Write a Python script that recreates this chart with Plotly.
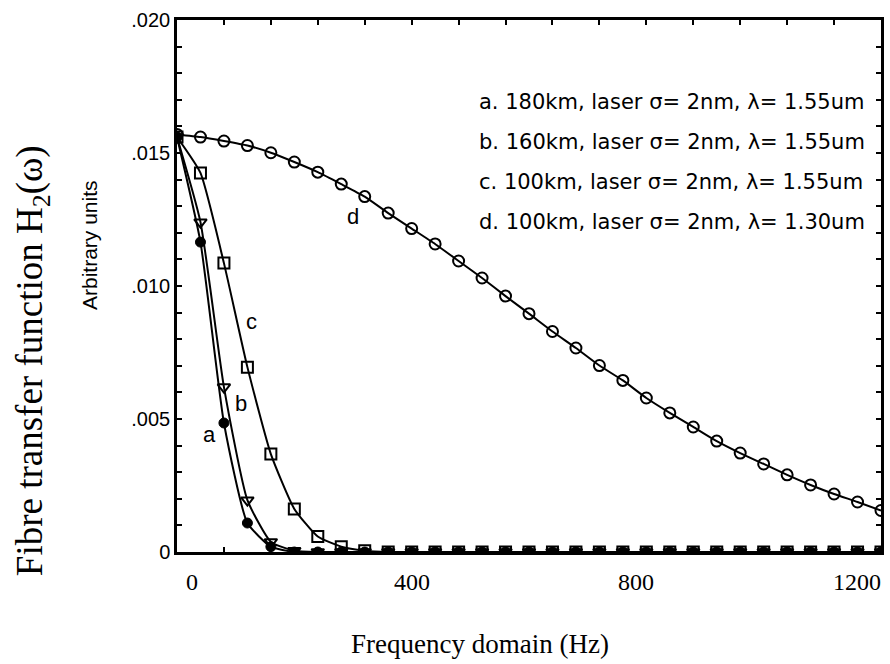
import plotly.graph_objects as go

# Frequency samples (Hz)
freq = [0, 40, 80, 120, 160, 200, 240, 280, 320, 360, 400, 440, 480, 520, 560,
        600, 640, 680, 720, 760, 800, 840, 880, 920, 960, 1000, 1040, 1080,
        1120, 1160, 1200]

# Fibre transfer function H2(w), arbitrary units
h_a = [0.0156, 0.01165, 0.00485, 0.00109, 0.0002, 0, 0, 0, 0, 0, 0, 0, 0, 0, 0,
       0, 0, 0, 0, 0, 0, 0, 0, 0, 0, 0, 0, 0, 0, 0, 0]
h_b = [0.0156, 0.0124, 0.0062, 0.00195, 0.00038, 0.00005, 0, 0, 0, 0, 0, 0, 0, 0, 0,
       0, 0, 0, 0, 0, 0, 0, 0, 0, 0, 0, 0, 0, 0, 0, 0]
h_c = [0.0156, 0.01425, 0.01086, 0.00695, 0.00368, 0.00162, 0.00058, 0.0002, 0.00005,
       0, 0, 0, 0, 0, 0, 0, 0, 0, 0, 0, 0, 0, 0, 0, 0, 0, 0, 0, 0, 0, 0]
h_d = [0.0157, 0.0156, 0.01545, 0.01528, 0.01501, 0.01466, 0.01428, 0.01383, 0.01336,
       0.01274, 0.01216, 0.01158, 0.01094, 0.0103, 0.00962, 0.00896, 0.00829, 0.00767,
       0.00701, 0.00645, 0.00579, 0.00523, 0.0047, 0.00417, 0.00372, 0.00331, 0.0029,
       0.00252, 0.00218, 0.00188, 0.00156]

legend_lines = [
    "a. 180km, laser σ= 2nm, λ= 1.55um",
    "b. 160km, laser σ= 2nm, λ= 1.55um",
    "c. 100km, laser σ= 2nm, λ= 1.55um",
    "d. 100km, laser σ= 2nm, λ= 1.30um",
]

# curve tags: (text, freq, value)
curve_tags = [("a", 56, 0.0044), ("b", 109, 0.0056), ("c", 127, 0.00865), ("d", 300, 0.0126)]

x_tick_vals = [0, 400, 800, 1200]
x_tick_text = ["0", "400", "800", "1200"]
x_tick_shift = [15, 0, -10, 2]
x_tick_anchor = ["center", "center", "center", "right"]

y_tick_vals = [i * 0.001 for i in range(21)]
y_tick_text = ["0" if i == 0 else (".%03d" % i if i % 5 == 0 else " ") for i in range(21)]

SANS = "Liberation Sans, Arial, sans-serif"
WIDE_SANS = "DejaVu Sans, Verdana, sans-serif"
SERIF = "Liberation Serif, Times New Roman, serif"

series = [
    (h_d, dict(symbol="circle-open", size=11, line=dict(width=2, color="black"))),
    (h_c, dict(symbol="square-open", size=11, line=dict(width=2, color="black"))),
    (h_b, dict(symbol="triangle-down-open", size=11, line=dict(width=2, color="black"))),
    (h_a, dict(symbol="circle", size=10, color="black", line=dict(width=1, color="black"))),
]

fig = go.Figure()
for vals, mk in series:
    fig.add_trace(go.Scatter(
        x=freq, y=vals, mode="lines+markers",
        line=dict(color="black", width=2, shape="spline", smoothing=0.5),
        marker=mk, cliponaxis=True, showlegend=False,
    ))

annotations = []
for txt, fx, fy in curve_tags:
    annotations.append(dict(x=fx, y=fy, xref="x", yref="y", text=txt, showarrow=False,
                            font=dict(family=SANS, size=22, color="black")))

for i, line in enumerate(legend_lines):
    annotations.append(dict(x=0.4257, y=0.846 - i * 0.0755, xref="paper", yref="paper",
                            xanchor="left", yanchor="middle", text=line, showarrow=False,
                            font=dict(family=WIDE_SANS, size=21, color="black")))

for v, t, s, a in zip(x_tick_vals, x_tick_text, x_tick_shift, x_tick_anchor):
    annotations.append(dict(x=v, y=-0.056, xref="x", yref="paper", text=t, showarrow=False,
                            xanchor=a, yanchor="middle", xshift=s,
                            font=dict(family=SERIF, size=24, color="black")))

annotations.append(dict(x=0.43, y=-0.172, xref="paper", yref="paper",
                        text="Frequency domain (Hz)", showarrow=False,
                        xanchor="center", yanchor="middle",
                        font=dict(family=SERIF, size=27, color="black")))
annotations.append(dict(x=-0.205, y=0.36, xref="paper", yref="paper",
                        text="Fibre transfer function H<sub>2</sub>(ω)", showarrow=False,
                        textangle=-90, xanchor="center", yanchor="middle",
                        font=dict(family=SERIF, size=37, color="black")))
annotations.append(dict(x=-0.125, y=0.577, xref="paper", yref="paper",
                        text="Arbitrary units", showarrow=False,
                        textangle=-90, xanchor="center", yanchor="middle",
                        font=dict(family=SANS, size=21, color="black")))

fig.update_layout(
    width=890, height=664, autosize=False,
    margin=dict(l=177, r=6, t=20, b=112),
    paper_bgcolor="white", plot_bgcolor="white",
    annotations=annotations,
    xaxis=dict(range=[0, 1200], tick0=0, dtick=80, ticks="inside", ticklen=5, tickwidth=1.5,
               tickcolor="black", showticklabels=False, showline=True, linewidth=2.5,
               linecolor="black", mirror="ticks", showgrid=False, zeroline=False),
    yaxis=dict(range=[0, 0.020], tickmode="array", tickvals=y_tick_vals, ticktext=y_tick_text,
               ticks="inside", ticklen=5, tickwidth=1.5, tickcolor="black",
               tickfont=dict(family=SANS, size=20, color="black"),
               showline=True, linewidth=2.5, linecolor="black", mirror="ticks",
               showgrid=False, zeroline=False, ticklabelstandoff=0),
)

fig.write_html("out.html")
